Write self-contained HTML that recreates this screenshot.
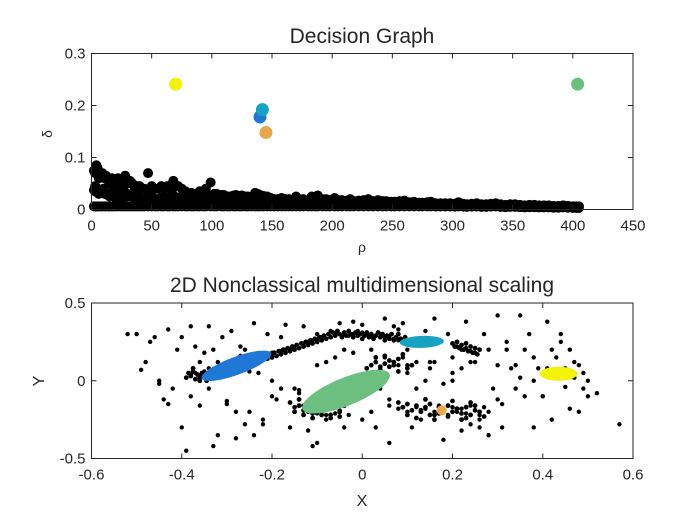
<!DOCTYPE html>
<html><head><meta charset="utf-8"><style>
body{margin:0;background:#fff}
svg text{font-family:"Liberation Sans",sans-serif;fill:#262626}
</style></head><body>
<svg id="fig" width="700" height="525" xmlns="http://www.w3.org/2000/svg">
<rect width="700" height="525" fill="#fff"/>
<g id="topPlot"></g><g id="botPlot"></g>
</svg>
<script>
// ---- Decision graph data ----
const rhoBlack=[2,3,4,5,6,8,9,11,12,14,15,17,18,20,22,24,26,28,30,32,34,36,38,40,42,44,47,50,53,55,58,60,63,65,68,70,72,75,78,80,83,85,88,90,93,95,99,102,104,108,110,113,115,118,120,123,125,128,130,133,136,138,140,143,146,149,152,155,158,161,164,167,170,173,176,180,183,186,188,192,195,198,202,205,208,212,215,218,222,226,230,234,238,242,245,249,252,256,260,264,268,272,275,279,282,286,290,294,298,302,305,309,312,316,320,324,328,332,336,340,344,348,352,356,360,364,368,372,376,380,384,388,392,396,400,403,405];
const deltaBlack=[0.075,0.07,0.085,0.08,0.06,0.065,0.07,0.06,0.065,0.055,0.05,0.06,0.055,0.045,0.06,0.05,0.045,0.065,0.05,0.055,0.05,0.04,0.045,0.045,0.04,0.04,0.07,0.045,0.04,0.04,0.045,0.04,0.045,0.04,0.055,0.045,0.045,0.04,0.035,0.03,0.032,0.03,0.03,0.035,0.03,0.04,0.052,0.03,0.03,0.028,0.028,0.025,0.025,0.027,0.028,0.026,0.027,0.025,0.025,0.024,0.032,0.03,0.028,0.026,0.025,0.022,0.02,0.02,0.022,0.02,0.02,0.018,0.025,0.02,0.02,0.018,0.025,0.02,0.027,0.02,0.02,0.018,0.022,0.018,0.018,0.017,0.02,0.016,0.017,0.018,0.02,0.016,0.018,0.016,0.016,0.015,0.015,0.016,0.017,0.014,0.015,0.013,0.013,0.014,0.015,0.012,0.012,0.012,0.012,0.011,0.014,0.011,0.01,0.011,0.012,0.01,0.01,0.011,0.012,0.01,0.009,0.01,0.01,0.009,0.008,0.009,0.009,0.008,0.008,0.008,0.007,0.007,0.008,0.007,0.006,0.006,0.006];
const rhoFill=[3,6,10,14,18,22,26,30,35,40,45,50,55,60,65,70,75,80,90,100,110,120,130,140,150,160,170,180,190,200];
const deltaFill=[0.045,0.035,0.04,0.03,0.035,0.03,0.025,0.03,0.025,0.025,0.02,0.025,0.02,0.025,0.02,0.02,0.018,0.018,0.015,0.015,0.012,0.012,0.012,0.01,0.01,0.01,0.009,0.008,0.008,0.008];
const rhoCenters=[70,140,142,145,404];
const deltaCenters=[0.241,0.178,0.192,0.148,0.241];
const centerColors=["#f2f20a","#1f78d6","#17a2c2","#e6a84a","#6cbf7f"];
const rhoTicks=[0,50,100,150,200,250,300,350,400,450];
const deltaTicks=[0,0.1,0.2,0.3];

// ---- MDS data ----
const mdsX=[-0.52,-0.5,-0.48,-0.47,-0.49,-0.46,-0.45,-0.44,-0.43,-0.42,-0.41,-0.4,-0.39,-0.38,-0.37,-0.36,-0.35,-0.34,-0.33,-0.32,-0.31,-0.3,-0.29,-0.28,-0.27,-0.26,-0.25,-0.24,-0.23,-0.22,-0.21,-0.2,-0.19,-0.18,-0.17,-0.16,-0.15,-0.14,-0.13,-0.12,-0.11,-0.1,-0.09,-0.08,-0.07,-0.06,-0.05,-0.04,-0.03,-0.02,-0.01,0,0.01,0.02,0.03,0.04,0.05,0.06,0.07,0.08,0.09,0.1,0.11,0.12,0.13,0.14,0.15,0.16,0.17,0.18,0.19,0.2,0.21,0.22,0.23,0.24,0.25,0.26,0.27,0.28,0.29,0.3,0.31,0.32,0.33,0.34,0.35,0.36,0.37,0.38,0.39,0.4,0.41,0.42,0.43,0.44,0.45,0.46,0.47,0.48,0.49,0.5,0.52,0.57,
-0.45,-0.43,-0.4,-0.38,-0.36,-0.34,-0.32,-0.3,-0.28,-0.26,-0.24,-0.22,-0.2,-0.18,-0.16,-0.14,-0.12,-0.1,-0.08,-0.06,-0.04,-0.02,0,0.02,0.04,0.06,0.08,0.1,0.12,0.14,0.16,0.18,0.2,0.22,0.24,0.26,0.28,0.3,0.32,0.34,0.36,0.38,0.4,0.42,0.44,0.46,0.48,
-0.38,-0.37,-0.36,-0.35,-0.34,-0.33,-0.21,-0.2,-0.19,-0.18,-0.17,-0.16,-0.15,-0.14,-0.13,-0.12,-0.11,-0.1,-0.09,-0.08,-0.07,-0.06,-0.05,-0.04,-0.03,-0.02,-0.01,0,0.01,0.02,0.03,0.04,0.05,0.06,0.07,0.08,0.21,0.22,0.23,0.24,0.25,
-0.14,-0.13,-0.12,-0.11,-0.1,-0.09,-0.08,-0.07,-0.06,-0.05,0.06,0.08,0.1,0.12,0.14,0.15,0.16,0.17,0.19,0.2,0.21,0.22,0.23,0.24,0.25,0.26,0.27,0.28,
-0.3,-0.25,-0.2,-0.15,-0.1,0.05,0.1,0.15,0.2,0.3,0.35,0.38,0.47,0.5,-0.33,-0.27,0.03,0.09,0.31,0.41,0.45,0.49];
const mdsY=[0.3,0.3,0.12,0.25,0.07,0.28,0.0,-0.12,0.33,-0.05,0.2,0.28,-0.45,0.35,0.22,-0.16,0.18,0.35,-0.42,0.12,0.28,-0.13,0.32,-0.37,0.16,0.2,-0.2,0.37,0.05,-0.28,0.3,0.18,-0.12,0.28,0.36,0.2,-0.2,-0.06,0.35,0.24,-0.42,0.3,0.27,-0.25,0.32,0.3,0.37,0.2,-0.22,0.38,0.32,0.36,0.3,-0.2,-0.3,0.3,0.4,-0.4,0.35,0.33,0.37,0.2,-0.3,0.12,-0.25,0.32,0.08,0.4,0.25,-0.38,0.3,0.15,0.22,-0.32,0.38,-0.28,0.12,-0.25,0.3,0.2,-0.05,0.42,-0.3,0.2,0.08,0.1,0.42,-0.1,0.3,-0.3,0.08,-0.1,0.38,0.2,0.15,0.3,-0.04,-0.18,0.12,0.1,-0.05,-0.1,-0.08,-0.28,
-0.02,-0.15,-0.3,-0.1,0.12,-0.05,-0.35,-0.15,-0.2,-0.28,-0.35,-0.25,-0.1,-0.05,-0.3,-0.08,-0.32,-0.4,0.12,0.15,-0.3,0.18,-0.25,0.2,-0.05,-0.12,0.1,0.05,-0.05,0.0,0.12,-0.02,0.0,0.08,0.12,-0.3,-0.35,-0.12,0.25,-0.05,0.2,0.15,-0.1,-0.25,0.25,0.2,-0.2,
0.04,0.05,0.03,0.06,0.08,0.06,0.14,0.17,0.16,0.19,0.2,0.2,0.22,0.21,0.24,0.25,0.26,0.26,0.28,0.27,0.28,0.29,0.3,0.3,0.29,0.3,0.31,0.31,0.3,0.29,0.29,0.3,0.28,0.28,0.27,0.26,0.22,0.2,0.21,0.19,0.18,
-0.12,-0.16,-0.2,-0.19,-0.21,-0.2,-0.22,-0.18,-0.21,-0.19,-0.16,-0.18,-0.2,-0.17,-0.18,-0.15,-0.2,-0.16,-0.22,-0.17,-0.2,-0.18,-0.21,-0.16,-0.19,-0.22,-0.17,-0.2,
0.05,0.06,0.0,-0.05,0.1,0.15,0.1,0.12,0.05,0.1,0.02,0.0,0.02,0.0,0.2,0.22,0.12,0.15,-0.15,0.08,0.08,0.05];
// dense ridges
const denseX=[-0.39,-0.385,-0.38,-0.375,-0.37,-0.365,-0.36,-0.355,-0.35,-0.375,-0.36,-0.345,-0.33,-0.2,-0.195,-0.19,-0.185,-0.18,-0.175,-0.17,-0.165,-0.16,-0.155,-0.15,-0.145,-0.14,-0.135,-0.13,-0.125,-0.12,-0.115,-0.11,-0.105,-0.1,-0.095,-0.09,-0.085,-0.08,-0.075,-0.07,-0.065,-0.06,-0.055,-0.05,-0.045,-0.04,-0.035,-0.03,-0.025,-0.02,-0.015,-0.01,-0.005,0.0,0.005,0.01,0.015,0.02,0.025,0.03,0.035,0.04,0.045,0.05,0.055,0.06,0.065,0.07,0.075,0.08,0.085,0.09,0.095,0.2,0.205,0.21,0.215,0.22,0.225,0.23,0.235,0.24,0.245,0.25,0.255,0.26,
0.01,0.02,0.03,0.04,0.05,0.06,0.07,0.08,0.02,0.04,0.06,0.08,0.1,0.03,0.05,0.07,0.09,0.11,
-0.16,-0.15,-0.14,-0.13,-0.12,-0.11,-0.1,-0.09,-0.08,-0.07,-0.06,-0.05,-0.04,-0.15,-0.13,-0.11,-0.09,-0.07,-0.05,-0.14,-0.12,-0.1,-0.08,-0.06,
0.08,0.09,0.1,0.11,0.12,0.13,0.14,0.15,0.16,0.17,0.19,0.2,0.21,0.22,0.23,0.24,0.25,0.26,0.27,0.1,0.12,0.14,0.16,0.2,0.22,0.24,0.13,0.15,0.17,0.19,0.21,0.23,0.25];
const denseY=[0.02,0.05,0.03,0.06,0.01,0.04,0.02,0.05,0.03,0.08,0.0,0.0,0.02,0.15,0.18,0.16,0.19,0.17,0.2,0.18,0.21,0.19,0.22,0.2,0.23,0.21,0.24,0.22,0.25,0.23,0.26,0.24,0.27,0.25,0.28,0.26,0.29,0.27,0.3,0.28,0.31,0.29,0.32,0.3,0.28,0.31,0.29,0.32,0.3,0.28,0.31,0.29,0.3,0.27,0.29,0.31,0.28,0.3,0.27,0.29,0.31,0.28,0.3,0.26,0.29,0.27,0.3,0.26,0.28,0.3,0.27,0.25,0.28,0.24,0.22,0.25,0.21,0.23,0.2,0.24,0.19,0.22,0.18,0.21,0.17,0.2,
0.08,0.1,0.12,0.09,0.11,0.13,0.1,0.14,0.05,0.07,0.09,0.06,0.08,0.15,0.16,0.12,0.17,0.1,
-0.14,-0.17,-0.16,-0.19,-0.18,-0.21,-0.17,-0.2,-0.18,-0.22,-0.17,-0.2,-0.16,-0.2,-0.22,-0.24,-0.22,-0.24,-0.23,-0.12,-0.14,-0.15,-0.14,-0.15,
-0.14,-0.17,-0.15,-0.19,-0.16,-0.2,-0.17,-0.15,-0.22,-0.17,-0.16,-0.2,-0.18,-0.21,-0.17,-0.22,-0.19,-0.2,-0.23,-0.22,-0.24,-0.12,-0.25,-0.13,-0.25,-0.14,-0.19,-0.22,-0.21,-0.23,-0.18,-0.24,-0.16];
const clusterCx=[-0.279,-0.036,0.132,0.435,0.176];
const clusterCy=[0.096,-0.07,0.25,0.045,-0.19];
const clusterRx=[0.082,0.104,0.049,0.042,0.011];
const clusterRy=[0.058,0.09,0.039,0.045,0.032];
const clusterAngle=[-20,-22,-2,0,0];
const clusterColors=["#1f78d6","#6cbf7f","#17a2c2","#f2f20a","#e6a84a"];
const xTicks=[-0.6,-0.4,-0.2,0,0.2,0.4,0.6];
const yTicks=[-0.5,0,0.5];

const NS="http://www.w3.org/2000/svg";
function mk(parent,tag,attrs){const e=document.createElementNS(NS,tag);for(const k in attrs)e.setAttribute(k,attrs[k]);parent.appendChild(e);return e;}

// top axes
const T={l:91.5,r:633,t:53.5,b:209.5};
const tx=v=>T.l+(v-0)/450*(T.r-T.l);
const ty=v=>T.b-(v-0)/0.3*(T.b-T.t);
const topG=document.getElementById('topPlot');
rhoFill.forEach((r,i)=>{const c=mk(topG,'circle',{cx:tx(r),cy:ty(deltaFill[i]),r:5,fill:'#000'});

});
rhoBlack.forEach((r,i)=>{const c=mk(topG,'circle',{cx:tx(r),cy:ty(deltaBlack[i]),r:5,fill:'#000'});


const c2=mk(topG,'circle',{cx:tx(r),cy:ty(Math.min(deltaBlack[i],0.006)),r:5,fill:'#000'});


const c3=mk(topG,'circle',{cx:tx(r),cy:ty(deltaBlack[i]/2),r:5,fill:'#000'});

});
rhoCenters.forEach((r,i)=>{const c=mk(topG,'circle',{cx:tx(r),cy:ty(deltaCenters[i]),r:6.5,fill:centerColors[i]});

});
const tb=mk(topG,'rect',{x:T.l,y:T.t,width:T.r-T.l,height:T.b-T.t,fill:'none',stroke:'#262626','stroke-width':1});


rhoTicks.forEach(v=>{const x=tx(v);mk(topG,'line',{x1:x,x2:x,y1:T.b,y2:T.b-5,stroke:'#262626'});mk(topG,'line',{x1:x,x2:x,y1:T.t,y2:T.t+5,stroke:'#262626'});
const t=mk(topG,'text',{x:x,y:T.b+21,'text-anchor':'middle','font-size':15});t.textContent=v;

});
deltaTicks.forEach(v=>{const y=ty(v);mk(topG,'line',{x1:T.l,x2:T.l+5,y1:y,y2:y,stroke:'#262626'});mk(topG,'line',{x1:T.r,x2:T.r-5,y1:y,y2:y,stroke:'#262626'});
const t=mk(topG,'text',{x:T.l-6,y:y+5,'text-anchor':'end','font-size':15});t.textContent=v;

});
let tt=mk(topG,'text',{x:362,y:43,'text-anchor':'middle','font-size':21});tt.textContent='Decision Graph';


tt=mk(topG,'text',{x:362,y:252,'text-anchor':'middle','font-size':14,'font-family':'Liberation Serif'});tt.textContent='ρ';


tt=mk(topG,'text',{x:52,y:134,'text-anchor':'middle','font-size':14,transform:'rotate(-90 52 134)'});tt.textContent='δ';



// bottom axes
const B={l:91.5,r:633,t:303,b:458.5};
const bx=v=>B.l+(v+0.6)/1.2*(B.r-B.l);
const by=v=>B.b-(v+0.5)/1.0*(B.b-B.t);
const botG=document.getElementById('botPlot');
mdsX.forEach((x,i)=>{const c=mk(botG,'circle',{cx:bx(x),cy:by(mdsY[i]),r:2.2,fill:'#000'});

});
denseX.forEach((x,i)=>{const c=mk(botG,'circle',{cx:bx(x),cy:by(denseY[i]),r:2.4,fill:'#000'});

});
clusterCx.forEach((cx,i)=>{const X=bx(cx),Y=by(clusterCy[i]);
const e=mk(botG,'ellipse',{cx:X,cy:Y,rx:clusterRx[i]*(B.r-B.l)/1.2,ry:clusterRy[i]*(B.b-B.t),fill:clusterColors[i],transform:`rotate(${clusterAngle[i]} ${X} ${Y})`});

});
const bb=mk(botG,'rect',{x:B.l,y:B.t,width:B.r-B.l,height:B.b-B.t,fill:'none',stroke:'#262626','stroke-width':1});


xTicks.forEach(v=>{const x=bx(v);mk(botG,'line',{x1:x,x2:x,y1:B.b,y2:B.b-5,stroke:'#262626'});mk(botG,'line',{x1:x,x2:x,y1:B.t,y2:B.t+5,stroke:'#262626'});
const t=mk(botG,'text',{x:x,y:B.b+21,'text-anchor':'middle','font-size':15});t.textContent=v;

});
yTicks.forEach(v=>{const y=by(v);mk(botG,'line',{x1:B.l,x2:B.l+5,y1:y,y2:y,stroke:'#262626'});mk(botG,'line',{x1:B.r,x2:B.r-5,y1:y,y2:y,stroke:'#262626'});
const t=mk(botG,'text',{x:B.l-6,y:y+5,'text-anchor':'end','font-size':15});t.textContent=v;

});
tt=mk(botG,'text',{x:362,y:292,'text-anchor':'middle','font-size':21});tt.textContent='2D Nonclassical multidimensional scaling';


tt=mk(botG,'text',{x:362,y:506,'text-anchor':'middle','font-size':16});tt.textContent='X';


tt=mk(botG,'text',{x:44,y:381,'text-anchor':'middle','font-size':16,transform:'rotate(-90 44 381)'});tt.textContent='Y';


</script>
</body></html>
